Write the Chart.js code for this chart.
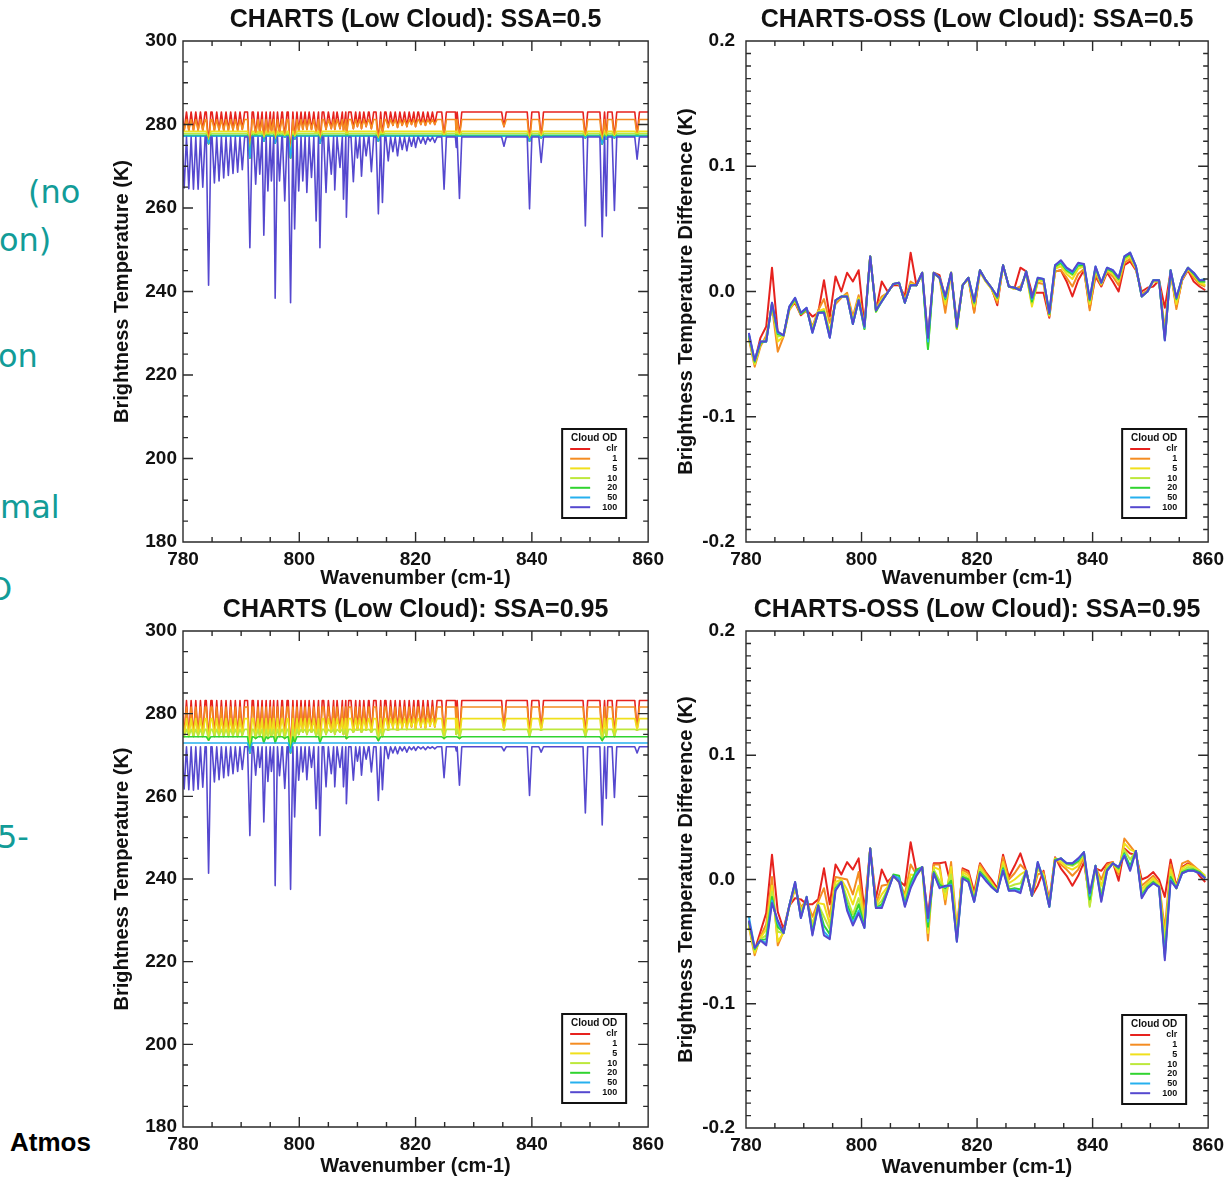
<!DOCTYPE html>
<html>
<head>
<meta charset="utf-8">
<script src="https://cdn.jsdelivr.net/npm/chart.js@4.4.1/dist/chart.umd.min.js"></script>
<style>
  html, body { margin: 0; padding: 0; background: #fff; overflow: hidden; width: 1230px; height: 1179px; }
  .panel { position: absolute; }
  .side { position: absolute; color: #129c98; font: 32px 'DejaVu Sans', sans-serif; white-space: nowrap; line-height: 1; }
  #atmos { position: absolute; left: 10px; top: 1127px; font: bold 26px 'Liberation Sans', Arial, sans-serif; color: #000; }
</style>
</head>
<body>
<div class="side" style="left:28px;top:176px">(no</div>
<div class="side" style="left:-1px;top:224px">on)</div>
<div class="side" style="left:-2px;top:340px">on</div>
<div class="side" style="left:0px;top:491px">mal</div>
<div class="side" style="left:-13px;top:573px">O</div>
<div class="side" style="left:-3px;top:821px">5-</div>
<div id="atmos">Atmos</div>

<div class="panel" style="left:100px;top:0;width:570px;height:590px"><canvas id="bt05"></canvas></div>
<div class="panel" style="left:670px;top:0;width:560px;height:590px"><canvas id="diff05"></canvas></div>
<div class="panel" style="left:100px;top:590px;width:570px;height:589px"><canvas id="bt095"></canvas></div>
<div class="panel" style="left:670px;top:590px;width:560px;height:589px"><canvas id="diff095"></canvas></div>

<script>
// ---- data -------------------------------------------------------------
const odLabels = ['clr', '1', '5', '10', '20', '50', '100'];
const odColors = ['#e6221e', '#f48c22', '#f0e01c', '#bde83c', '#30d430', '#26b0ee', '#5548cf'];

// window (between-line) brightness temperature for each cloud OD, K
const baseSSA05  = [283.0, 281.2, 278.4, 277.9, 277.4, 277.2, 277.0];
const baseSSA095 = [283.2, 281.6, 278.8, 276.2, 274.4, 272.9, 272.0];

// absorption lines: [wavenumber, half width (cm-1), floor of the warmer curves (K), minimum of OD 100 curve (K)]
const linesSSA05 = [
  [780.2, 0.4, 278.6, 264.8], [781.0, 0.4, 278.6, 264.6], [781.8, 0.4, 278.6, 264.5],
  [782.6, 0.4, 278.6, 264.5], [783.4, 0.4, 278.6, 265.0], [784.4, 0.4, 275.4, 241.5],
  [785.4, 0.4, 278.6, 266.0], [786.2, 0.4, 278.6, 266.5], [787.0, 0.4, 278.6, 267.2],
  [787.8, 0.4, 278.6, 267.8], [788.6, 0.4, 278.6, 268.3], [789.4, 0.4, 278.6, 268.6],
  [790.2, 0.4, 278.8, 269.2], [791.5, 0.4, 272.0, 250.5], [792.5, 0.4, 277.5, 265.7],
  [793.2, 0.4, 278.0, 268.1], [793.9, 0.4, 276.0, 253.5], [794.6, 0.4, 277.5, 264.1],
  [795.2, 0.4, 278.0, 266.5], [795.85, 0.4, 275.5, 238.4], [796.6, 0.4, 277.8, 266.5],
  [797.5, 0.4, 277.0, 261.7], [798.5, 0.4, 272.0, 237.3], [799.2, 0.4, 276.5, 255.0],
  [799.9, 0.4, 278.5, 264.1], [800.6, 0.4, 278.8, 266.5], [801.3, 0.4, 278.8, 263.7],
  [802.1, 0.4, 278.8, 267.3], [802.9, 0.4, 278.0, 256.9], [803.55, 0.4, 275.5, 250.5],
  [804.6, 0.4, 278.8, 263.7], [805.5, 0.4, 279.0, 268.1], [806.1, 0.4, 278.8, 264.3],
  [807.0, 0.4, 279.0, 269.7], [807.6, 0.4, 278.5, 262.1], [808.1, 0.4, 277.5, 257.8],
  [809.3, 0.4, 279.0, 266.3], [810.0, 0.4, 279.5, 272.0], [810.7, 0.4, 279.0, 267.6],
  [811.5, 0.4, 279.5, 272.5], [812.4, 0.4, 279.0, 268.7], [813.6, 0.4, 276.0, 258.6],
  [814.3, 0.4, 277.5, 261.3], [815.3, 0.4, 279.3, 271.3], [816.1, 0.4, 279.8, 273.5],
  [816.9, 0.4, 279.3, 272.5], [817.7, 0.4, 279.8, 274.0], [818.5, 0.4, 279.5, 273.7],
  [819.3, 0.4, 280.0, 274.8], [820.0, 0.4, 279.5, 274.5], [820.9, 0.4, 280.0, 275.5],
  [821.7, 0.4, 279.8, 275.3], [822.5, 0.4, 280.2, 276.0], [823.3, 0.4, 280.0, 275.7],
  [824.9, 0.4, 277.2, 264.5], [827.0, 0.15, 277.5, 274.5], [827.55, 0.4, 277.2, 262.3],
  [835.2, 0.4, 279.5, 274.8], [839.6, 0.4, 276.0, 259.8], [841.6, 0.4, 276.8, 270.9],
  [849.2, 0.4, 276.8, 255.7], [852.1, 0.4, 275.3, 253.1], [852.8, 0.25, 276.5, 258.1],
  [854.2, 0.4, 276.8, 259.4], [858.1, 0.4, 277.6, 271.7]
];
const linesSSA095 = [
  [780.2, 0.4, 274.5, 261.8], [781.0, 0.4, 274.5, 261.6], [781.8, 0.4, 274.5, 261.5],
  [782.6, 0.4, 274.5, 261.7], [783.4, 0.4, 274.5, 262.2], [784.4, 0.4, 273.6, 241.4],
  [785.4, 0.4, 274.5, 263.5], [786.2, 0.4, 274.5, 264.0], [787.0, 0.4, 274.5, 264.5],
  [787.8, 0.4, 274.5, 265.0], [788.6, 0.4, 274.5, 265.5], [789.4, 0.4, 274.5, 266.0],
  [790.2, 0.4, 274.8, 266.5], [791.5, 0.4, 270.5, 250.5], [792.5, 0.4, 274.0, 265.1],
  [793.2, 0.4, 274.5, 267.0], [793.9, 0.4, 273.0, 253.8], [794.6, 0.4, 274.0, 263.6],
  [795.2, 0.4, 274.5, 266.0], [795.85, 0.4, 273.0, 238.4], [796.6, 0.4, 274.5, 265.0],
  [797.5, 0.4, 274.0, 261.9], [798.5, 0.4, 270.5, 237.5], [799.2, 0.4, 273.0, 255.0],
  [799.9, 0.4, 275.0, 263.9], [800.6, 0.4, 275.5, 265.9], [801.3, 0.4, 275.0, 264.0],
  [802.1, 0.4, 275.5, 267.0], [802.9, 0.4, 274.5, 257.0], [803.55, 0.4, 273.0, 250.5],
  [804.6, 0.4, 275.0, 262.3], [805.5, 0.4, 275.5, 265.5], [806.1, 0.4, 275.0, 262.3],
  [807.0, 0.4, 275.5, 267.0], [807.6, 0.4, 275.0, 262.3], [808.1, 0.4, 274.0, 258.2],
  [809.3, 0.4, 275.5, 263.9], [810.0, 0.4, 276.0, 268.5], [810.7, 0.4, 275.5, 265.1],
  [811.5, 0.4, 276.0, 269.0], [812.4, 0.4, 275.5, 265.9], [813.6, 0.4, 273.5, 259.0],
  [814.3, 0.4, 274.5, 261.6], [815.3, 0.4, 276.0, 269.1], [816.1, 0.4, 276.5, 270.5],
  [816.9, 0.4, 276.0, 270.3], [817.7, 0.4, 276.5, 271.0], [818.5, 0.4, 276.2, 270.7],
  [819.3, 0.4, 276.8, 271.3], [820.0, 0.4, 276.3, 271.1], [820.9, 0.4, 276.8, 271.5],
  [821.7, 0.4, 276.5, 271.3], [822.5, 0.4, 277.0, 271.6], [823.3, 0.4, 276.8, 271.5],
  [824.9, 0.4, 274.0, 264.5], [827.0, 0.15, 275.0, 271.0], [827.55, 0.4, 274.0, 262.7],
  [835.2, 0.4, 276.0, 271.0], [839.6, 0.4, 274.5, 260.2], [841.6, 0.4, 276.0, 270.7],
  [849.2, 0.4, 274.5, 256.0], [852.1, 0.4, 273.5, 253.1], [852.8, 0.25, 274.5, 259.5],
  [854.2, 0.4, 274.5, 259.7], [858.1, 0.4, 276.0, 270.5]
];

// CHARTS - OSS differences, sampled every 1 cm-1 starting at 780.5 cm-1
const diffStart = 780.5, diffStep = 1;
const diff05 = [
  [-0.037,-0.056,-0.037,-0.028,0.019,-0.033,-0.035,-0.013,-0.009,-0.019,-0.015,-0.020,-0.017,0.009,-0.020,0.012,0.000,0.015,0.008,0.017,
   -0.027,0.028,-0.015,0.008,0.000,0.005,0.005,-0.004,0.031,0.005,0.015,-0.037,0.015,0.013,-0.005,0.015,-0.025,0.005,0.011,-0.016,
   0.017,0.009,0.003,-0.011,0.021,0.004,0.003,0.019,0.016,-0.001,-0.001,-0.001,-0.021,0.016,0.017,0.008,-0.004,0.009,0.017,-0.013,
   0.012,0.004,0.015,0.008,0.000,0.021,0.024,0.017,0.000,0.003,0.004,0.009,-0.013,0.016,-0.012,0.009,0.017,0.008,0.004,0.001],
  [-0.038,-0.060,-0.044,-0.035,-0.012,-0.048,-0.036,-0.015,-0.008,-0.018,-0.015,-0.028,-0.015,-0.006,-0.025,-0.010,-0.005,-0.001,-0.020,-0.003,
   -0.027,0.028,-0.014,-0.004,-0.001,0.006,0.006,-0.006,0.008,0.005,0.014,-0.040,0.014,0.011,-0.017,0.015,-0.030,0.005,0.010,-0.017,
   0.016,0.008,0.002,-0.009,0.020,0.004,0.002,0.004,0.014,-0.010,0.007,0.006,-0.020,0.016,0.017,0.011,0.004,0.014,0.018,-0.015,
   0.014,0.005,0.016,0.012,0.005,0.023,0.026,0.018,-0.002,0.001,0.008,0.008,-0.030,0.016,-0.014,0.010,0.018,0.011,0.006,0.004],
  [-0.036,-0.058,-0.042,-0.038,-0.010,-0.040,-0.036,-0.014,-0.007,-0.018,-0.014,-0.030,-0.016,-0.014,-0.032,-0.008,-0.004,-0.003,-0.024,-0.005,
   -0.028,0.028,-0.016,-0.006,-0.001,0.006,0.006,-0.008,0.006,0.005,0.014,-0.042,0.015,0.011,-0.010,0.015,-0.030,0.005,0.010,-0.012,
   0.016,0.008,0.002,-0.007,0.020,0.004,0.002,0.002,0.015,-0.012,0.009,0.008,-0.019,0.018,0.020,0.014,0.010,0.018,0.020,-0.010,
   0.017,0.006,0.017,0.014,0.008,0.025,0.028,0.019,-0.003,0.000,0.008,0.008,-0.035,0.016,-0.010,0.010,0.018,0.013,0.007,0.005],
  [-0.035,-0.057,-0.041,-0.039,-0.010,-0.036,-0.035,-0.013,-0.006,-0.018,-0.014,-0.031,-0.017,-0.016,-0.035,-0.007,-0.004,-0.004,-0.025,-0.006,
   -0.030,0.028,-0.016,-0.007,-0.001,0.006,0.007,-0.009,0.005,0.005,0.015,-0.045,0.015,0.011,-0.007,0.015,-0.029,0.005,0.011,-0.010,
   0.017,0.009,0.003,-0.005,0.021,0.004,0.003,0.001,0.016,-0.009,0.010,0.009,-0.018,0.019,0.022,0.016,0.013,0.020,0.021,-0.008,
   0.018,0.006,0.018,0.015,0.009,0.026,0.029,0.019,-0.004,0.000,0.009,0.009,-0.037,0.017,-0.007,0.011,0.019,0.014,0.008,0.007],
  [-0.035,-0.056,-0.041,-0.040,-0.010,-0.034,-0.035,-0.013,-0.006,-0.018,-0.014,-0.032,-0.017,-0.016,-0.036,-0.007,-0.004,-0.004,-0.026,-0.007,
   -0.030,0.028,-0.016,-0.008,-0.001,0.006,0.007,-0.009,0.005,0.005,0.015,-0.046,0.015,0.011,-0.006,0.015,-0.029,0.005,0.011,-0.009,
   0.017,0.009,0.003,-0.005,0.021,0.004,0.003,0.001,0.016,-0.008,0.010,0.010,-0.018,0.020,0.023,0.017,0.014,0.021,0.021,-0.007,
   0.019,0.007,0.018,0.016,0.010,0.027,0.030,0.020,-0.004,0.000,0.009,0.009,-0.038,0.017,-0.006,0.011,0.019,0.014,0.008,0.008],
  [-0.034,-0.055,-0.040,-0.040,-0.009,-0.033,-0.035,-0.012,-0.005,-0.017,-0.013,-0.033,-0.017,-0.017,-0.037,-0.007,-0.004,-0.004,-0.026,-0.007,
   -0.029,0.028,-0.015,-0.008,-0.001,0.006,0.007,-0.009,0.005,0.005,0.015,-0.040,0.015,0.011,-0.005,0.015,-0.028,0.005,0.011,-0.008,
   0.017,0.009,0.003,-0.004,0.021,0.004,0.003,0.001,0.016,-0.006,0.011,0.010,-0.017,0.021,0.024,0.018,0.015,0.022,0.022,-0.006,
   0.020,0.007,0.019,0.017,0.011,0.028,0.031,0.020,-0.004,0.000,0.009,0.009,-0.039,0.017,-0.005,0.011,0.019,0.015,0.009,0.010],
  [-0.033,-0.055,-0.040,-0.040,-0.009,-0.032,-0.035,-0.012,-0.005,-0.017,-0.013,-0.033,-0.017,-0.017,-0.037,-0.007,-0.004,-0.004,-0.026,-0.007,
   -0.028,0.028,-0.015,-0.008,-0.001,0.006,0.007,-0.009,0.005,0.005,0.015,-0.037,0.015,0.011,-0.004,0.015,-0.028,0.005,0.011,-0.008,
   0.017,0.009,0.003,-0.004,0.021,0.004,0.003,0.001,0.016,-0.005,0.011,0.010,-0.017,0.021,0.025,0.019,0.016,0.023,0.022,-0.006,
   0.020,0.007,0.019,0.017,0.011,0.028,0.031,0.020,-0.004,0.000,0.009,0.009,-0.039,0.017,-0.005,0.011,0.019,0.015,0.009,0.009]
];
const diff095 = [
  [-0.035,-0.057,-0.042,-0.027,0.020,-0.026,-0.040,-0.021,-0.015,-0.016,-0.020,-0.020,-0.016,0.009,-0.020,0.012,0.004,0.014,0.008,0.017,
   -0.025,0.025,-0.015,0.008,-0.002,0.003,-0.001,-0.005,0.030,0.006,0.010,-0.030,0.013,0.013,0.014,-0.005,-0.045,0.009,0.007,-0.010,
   0.013,0.006,0.000,-0.007,0.020,0.002,0.011,0.021,0.007,-0.013,-0.005,0.007,-0.017,0.018,0.009,0.003,-0.005,0.003,0.014,-0.016,
   0.009,0.007,0.013,0.014,-0.001,0.025,0.021,0.020,0.000,0.002,0.006,0.000,-0.014,0.016,-0.005,0.010,0.013,0.010,0.003,-0.002],
  [-0.038,-0.061,-0.046,-0.036,0.002,-0.053,-0.042,-0.022,-0.008,-0.022,-0.017,-0.030,-0.018,-0.007,-0.030,0.002,0.001,0.000,-0.012,0.006,
   -0.030,0.025,-0.020,-0.005,-0.004,0.003,-0.002,-0.012,0.012,0.004,0.010,-0.049,0.012,0.012,-0.020,0.014,-0.040,0.008,0.005,-0.013,
   0.012,0.005,-0.002,-0.009,0.018,0.000,0.005,0.012,0.007,-0.013,0.004,0.006,-0.019,0.017,0.012,0.008,0.003,0.008,0.018,-0.018,
   0.010,0.000,0.012,0.014,0.004,0.033,0.027,0.021,-0.005,-0.001,0.003,-0.003,-0.040,0.012,-0.007,0.013,0.015,0.011,0.007,0.002],
  [-0.037,-0.059,-0.047,-0.040,-0.005,-0.050,-0.043,-0.022,-0.006,-0.025,-0.016,-0.036,-0.019,-0.020,-0.036,-0.002,0.000,-0.008,-0.020,-0.005,
   -0.033,0.025,-0.021,-0.012,-0.006,0.003,-0.002,-0.015,0.004,0.003,0.010,-0.043,0.010,0.008,-0.016,0.010,-0.045,0.006,0.003,-0.015,
   0.010,0.003,-0.003,-0.009,0.014,-0.003,0.000,0.004,0.007,-0.013,0.008,0.004,-0.020,0.017,0.014,0.010,0.008,0.011,0.020,-0.021,
   0.010,-0.005,0.010,0.013,0.006,0.029,0.024,0.022,-0.008,-0.003,0.001,-0.004,-0.048,0.008,-0.007,0.009,0.012,0.010,0.007,0.003],
  [-0.035,-0.057,-0.048,-0.045,-0.010,-0.042,-0.043,-0.021,-0.004,-0.028,-0.015,-0.040,-0.020,-0.030,-0.040,-0.005,-0.001,-0.015,-0.028,-0.015,
   -0.036,0.025,-0.022,-0.017,-0.008,0.003,-0.002,-0.018,0.000,0.004,0.010,-0.040,0.008,-0.001,-0.010,0.004,-0.048,0.004,0.001,-0.016,
   0.008,0.002,-0.004,-0.010,0.011,-0.006,-0.004,-0.003,0.007,-0.013,0.011,0.002,-0.021,0.016,0.016,0.012,0.011,0.014,0.021,-0.022,
   0.011,-0.012,0.009,0.013,0.008,0.024,0.016,0.023,-0.011,-0.005,-0.001,-0.005,-0.055,0.004,-0.007,0.007,0.010,0.009,0.006,0.002],
  [-0.034,-0.056,-0.049,-0.048,-0.014,-0.038,-0.043,-0.021,-0.003,-0.030,-0.014,-0.042,-0.021,-0.037,-0.044,-0.007,-0.002,-0.020,-0.032,-0.020,
   -0.038,0.025,-0.023,-0.020,-0.009,0.004,0.003,-0.020,-0.003,0.008,0.010,-0.038,0.006,-0.004,-0.007,-0.001,-0.049,0.002,0.000,-0.017,
   0.006,0.001,-0.005,-0.010,0.009,-0.008,-0.007,-0.008,0.007,-0.013,0.013,0.001,-0.022,0.016,0.017,0.013,0.012,0.015,0.022,-0.016,
   0.011,-0.015,0.008,0.013,0.009,0.021,0.011,0.023,-0.013,-0.006,-0.002,-0.006,-0.060,0.002,-0.007,0.006,0.008,0.008,0.006,0.001],
  [-0.030,-0.055,-0.049,-0.051,-0.017,-0.035,-0.043,-0.021,-0.002,-0.031,-0.014,-0.044,-0.021,-0.042,-0.047,-0.008,-0.002,-0.023,-0.035,-0.025,
   -0.039,0.025,-0.023,-0.022,-0.010,0.003,0.001,-0.021,-0.006,0.005,0.010,-0.034,0.005,-0.006,-0.006,-0.004,-0.050,0.001,-0.002,-0.018,
   0.005,0.000,-0.006,-0.010,0.008,-0.009,-0.008,-0.010,0.007,-0.013,0.014,0.000,-0.022,0.015,0.017,0.013,0.013,0.016,0.022,-0.013,
   0.011,-0.017,0.007,0.013,0.010,0.020,0.008,0.023,-0.014,-0.007,-0.003,-0.006,-0.063,0.000,-0.007,0.005,0.007,0.007,0.005,0.001],
  [-0.033,-0.055,-0.049,-0.053,-0.019,-0.033,-0.043,-0.021,-0.002,-0.031,-0.014,-0.045,-0.021,-0.045,-0.048,-0.009,-0.002,-0.025,-0.037,-0.027,
   -0.039,0.025,-0.023,-0.023,-0.010,0.003,-0.002,-0.022,-0.007,0.003,0.010,-0.031,0.005,-0.007,-0.005,-0.005,-0.050,0.001,-0.002,-0.018,
   0.005,-0.001,-0.006,-0.010,0.007,-0.009,-0.009,-0.011,0.007,-0.013,0.014,-0.001,-0.022,0.015,0.017,0.013,0.013,0.017,0.022,-0.011,
   0.011,-0.018,0.007,0.013,0.010,0.019,0.007,0.023,-0.015,-0.007,-0.003,-0.006,-0.065,-0.001,-0.007,0.005,0.007,0.007,0.005,0.001]
];

// ---- chart helpers ----------------------------------------------------
Chart.defaults.font.family = "'Liberation Sans', Arial, Helvetica, sans-serif";
Chart.defaults.color = '#111';
Chart.defaults.animation = false;

// box frame with IDL-style inward ticks on all four sides
const frameTicks = {
  id: 'frameTicks',
  afterDatasetsDraw(chart, args, o) {
    const { ctx, chartArea: a, scales: { x, y } } = chart;
    const marks = (scale, minor, major, draw) => {
      const n = Math.round((scale.max - scale.min) / minor);
      const every = Math.round(major / minor);
      for (let k = 0; k <= n; k++) draw(scale.getPixelForValue(scale.min + k * minor), k % every === 0 ? 10 : 5);
    };
    ctx.save();
    ctx.strokeStyle = '#2a2a2a';
    ctx.lineWidth = 1.4;
    ctx.beginPath();
    marks(x, o.xMinor, o.xMajor, (p, len) => {
      ctx.moveTo(p, a.bottom); ctx.lineTo(p, a.bottom - len);
      ctx.moveTo(p, a.top); ctx.lineTo(p, a.top + len);
    });
    marks(y, o.yMinor, o.yMajor, (p, len) => {
      ctx.moveTo(a.left, p); ctx.lineTo(a.left + len, p);
      ctx.moveTo(a.right, p); ctx.lineTo(a.right - len, p);
    });
    ctx.rect(a.left, a.top, a.right - a.left, a.bottom - a.top);
    ctx.stroke();
    ctx.restore();
  }
};

// small boxed "Cloud OD" key in the lower right of the plot
const odLegend = {
  id: 'odLegend',
  afterDraw(chart) {
    const { ctx, chartArea: a } = chart;
    const w = 64, h = 89;
    const x0 = a.right - 22 - w, y0 = a.bottom - 24 - h;
    ctx.save();
    ctx.fillStyle = '#fff';
    ctx.fillRect(x0, y0, w, h);
    ctx.strokeStyle = '#111';
    ctx.lineWidth = 2;
    ctx.strokeRect(x0, y0, w, h);
    ctx.fillStyle = '#111';
    ctx.textBaseline = 'middle';
    ctx.textAlign = 'center';
    ctx.font = "bold 10px 'Liberation Sans', Arial, sans-serif";
    ctx.fillText('Cloud OD', x0 + w / 2, y0 + 9);
    ctx.font = "bold 9px 'Liberation Sans', Arial, sans-serif";
    ctx.textAlign = 'right';
    chart.data.datasets.forEach((ds, i) => {
      const yy = y0 + 20 + i * 9.7;
      ctx.strokeStyle = ds.borderColor;
      ctx.lineWidth = 2;
      ctx.beginPath(); ctx.moveTo(x0 + 8, yy); ctx.lineTo(x0 + 28, yy); ctx.stroke();
      ctx.fillText(ds.label, x0 + w - 9, yy);
    });
    ctx.restore();
  }
};

// keep the panel title centred over the plot box, not the whole canvas
const centerTitle = {
  id: 'centerTitle',
  afterLayout(chart) {
    const t = chart.titleBlock;
    if (t) { t.left = chart.chartArea.left; t.right = chart.chartArea.right; }
  }
};

function panelOptions(cfg) {
  return {
    responsive: true,
    maintainAspectRatio: false,
    animation: false,
    events: [],
    parsing: false,
    layout: { padding: { right: cfg.padRight } },
    plugins: {
      legend: { display: false },
      tooltip: { enabled: false },
      title: {
        display: true, text: cfg.title, color: '#111',
        font: { size: 25, weight: 'bold' }, padding: { top: 5, bottom: 6 },
      },
      frameTicks: { xMinor: 5, xMajor: 20, yMinor: cfg.yMinor, yMajor: cfg.yMajor },
    },
    scales: {
      x: {
        type: 'linear', min: 780, max: 860,
        grid: { display: false, drawTicks: false }, border: { display: false },
        ticks: { stepSize: 20, padding: 6, maxRotation: 0, color: '#111', font: { size: 19, weight: 'bold' } },
        title: { display: true, text: 'Wavenumber (cm-1)', color: '#111', font: { size: 20, weight: 'bold' }, padding: { top: 0, bottom: cfg.xTitlePad } },
        afterFit: s => { s.height = cfg.xHeight; },
      },
      y: {
        type: 'linear', min: cfg.yMin, max: cfg.yMax,
        grid: { display: false, drawTicks: false }, border: { display: false },
        ticks: { stepSize: cfg.yMajor, padding: cfg.yTickPad, color: '#111', font: { size: 19, weight: 'bold' }, callback: cfg.yFmt },
        title: { display: true, text: cfg.yTitle, color: '#111', font: { size: 20, weight: 'bold' }, padding: { top: cfg.yTitlePad, bottom: 0 } },
        afterFit: s => { s.width = cfg.yWidth; },
      },
    },
  };
}

// one curve per cloud OD: flat window level with a V-shaped dip at every line
function spectrum(base, lines, k) {
  const last = base.length - 1;
  const pts = [{ x: 779, y: base[k] }];
  let prev = 779;
  for (const [wn, hw, warm, cold] of lines) {
    const dip = Math.min(base[k], k === last ? cold : warm);
    const left = Math.max(wn - hw, prev);
    pts.push({ x: left, y: base[k] }, { x: wn, y: dip }, { x: wn + hw, y: base[k] });
    prev = wn + hw;
  }
  pts.push({ x: 861, y: base[k] });
  return pts;
}

function makeSpectrumChart(id, title, base, lines, xHeight, xTitlePad) {
  new Chart(document.getElementById(id), {
    type: 'line',
    data: {
      datasets: odLabels.map((label, k) => ({
        label, data: spectrum(base, lines, k),
        borderColor: odColors[k], borderWidth: 1.6, borderJoinStyle: 'round',
        pointRadius: 0, order: odLabels.length - k,
      })),
    },
    options: panelOptions({
      title, padRight: 20, xHeight, xTitlePad,
      yMin: 180, yMax: 300, yMinor: 5, yMajor: 20, yTickPad: 6, yWidth: 83, yTitlePad: 10,
      yTitle: 'Brightness Temperature (K)', yFmt: v => v,
    }),
    plugins: [frameTicks, odLegend, centerTitle],
  });
}

function makeDiffChart(id, title, series, xHeight, xTitlePad) {
  new Chart(document.getElementById(id), {
    type: 'line',
    data: {
      datasets: odLabels.map((label, k) => ({
        label, data: series[k].map((v, i) => ({ x: diffStart + i * diffStep, y: v })),
        borderColor: odColors[k], borderWidth: 2, borderJoinStyle: 'round',
        pointRadius: 0, order: odLabels.length - k,
      })),
    },
    options: panelOptions({
      title, padRight: 19, xHeight, xTitlePad,
      yMin: -0.2, yMax: 0.2, yMinor: 0.01, yMajor: 0.1, yTickPad: 11, yWidth: 76, yTitlePad: 4,
      yTitle: 'Brightness Temperature Difference (K)',
      yFmt: v => (Math.abs(v) < 1e-9 ? '0.0' : v.toFixed(1)),
    }),
    plugins: [frameTicks, odLegend, centerTitle],
  });
}

makeSpectrumChart('bt05', 'CHARTS (Low Cloud): SSA=0.5', baseSSA05, linesSSA05, 48, 0);
makeDiffChart('diff05', 'CHARTS-OSS (Low Cloud): SSA=0.5', diff05, 48, 0);
makeSpectrumChart('bt095', 'CHARTS (Low Cloud): SSA=0.95', baseSSA095, linesSSA095, 52, 1);
makeDiffChart('diff095', 'CHARTS-OSS (Low Cloud): SSA=0.95', diff095, 51, 0);
</script>
</body>
</html>
